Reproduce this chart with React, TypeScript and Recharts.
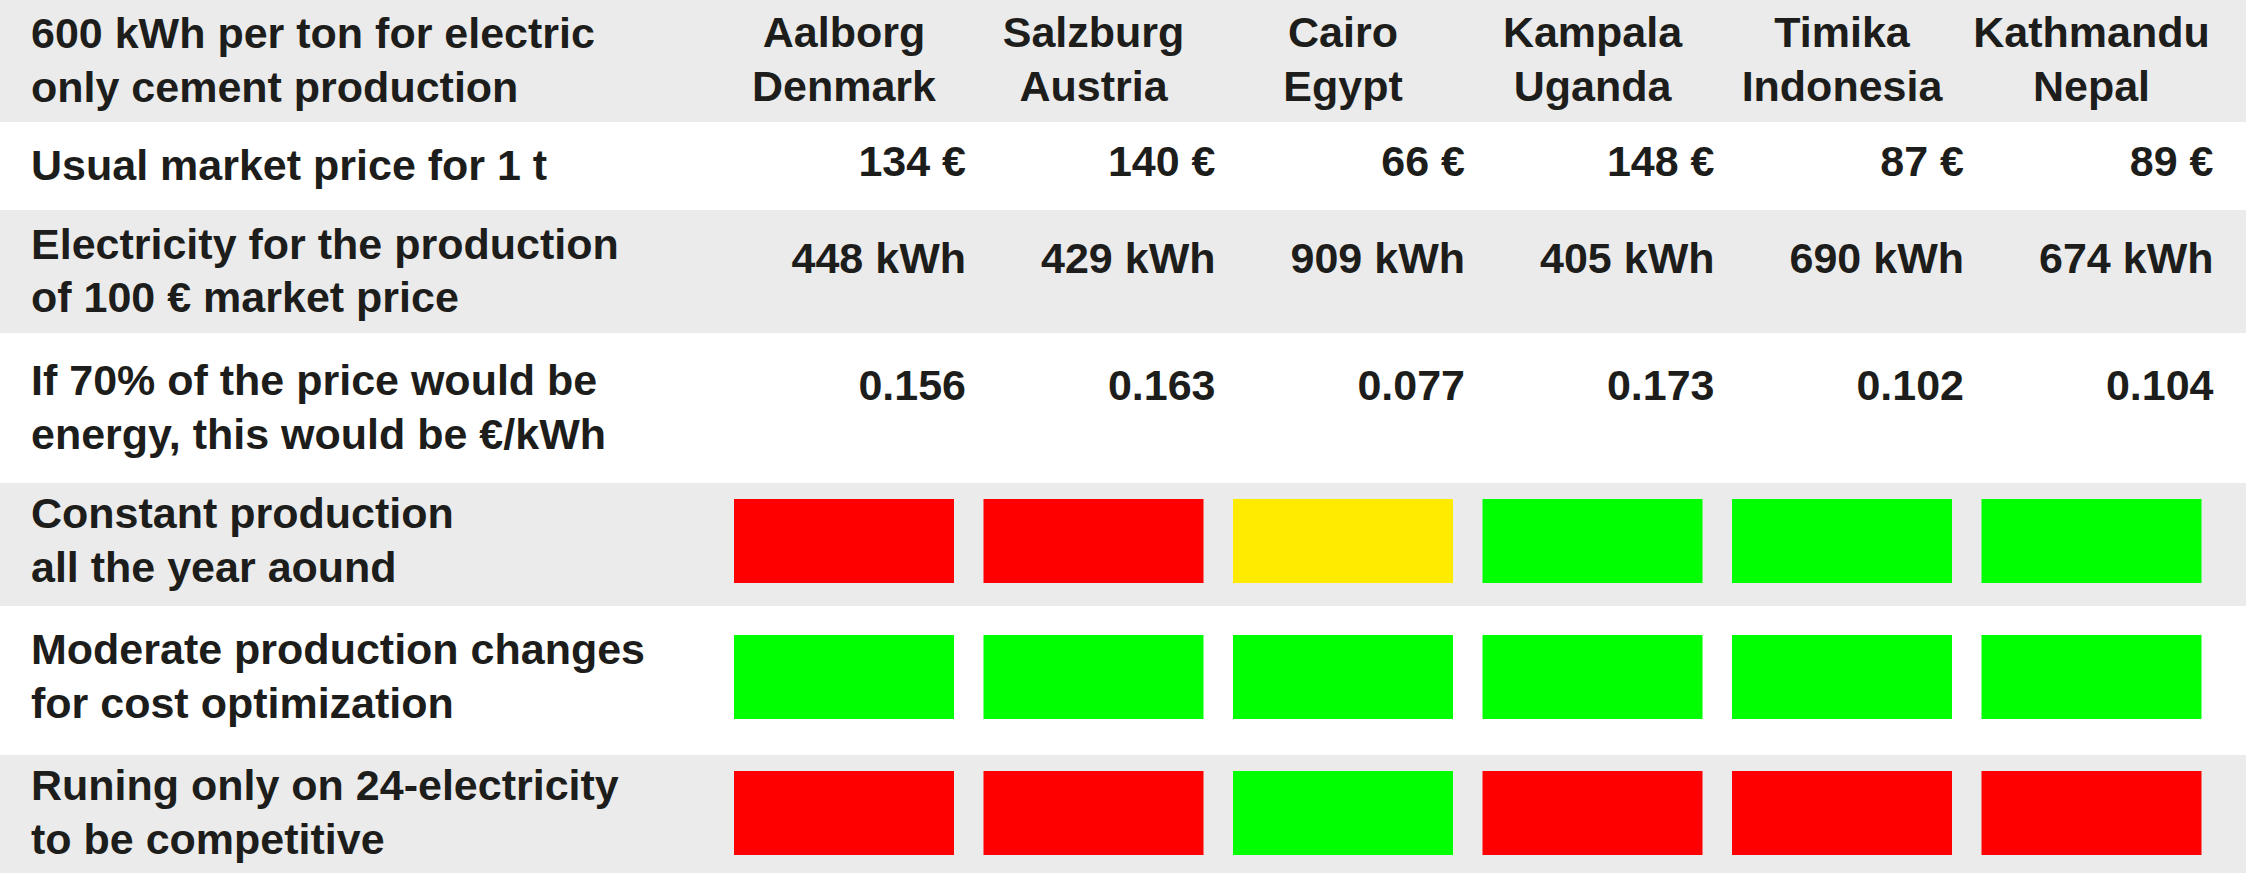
import { BarChart, Bar, XAxis, YAxis, Cell, LabelList } from "recharts";

// columns
const cities = ["Aalborg", "Salzburg", "Cairo", "Kampala", "Timika", "Kathmandu"];
const countries = ["Denmark", "Austria", "Egypt", "Uganda", "Indonesia", "Nepal"];

// numeric rows
const marketPrice = [134, 140, 66, 148, 87, 89];
const kwhPer100Euro = [448, 429, 909, 405, 690, 674];
const euroPerKwh = [0.156, 0.163, 0.077, 0.173, 0.102, 0.104];

// traffic light rows
const constantProduction = ["red", "red", "yellow", "green", "green", "green"];
const moderateChanges = ["green", "green", "green", "green", "green", "green"];
const only24Electricity = ["red", "red", "green", "red", "red", "red"];

// row labels
const headerTitle = ["600 kWh per ton for electric", "only cement production"];
const priceLabel = ["Usual market price for 1 t"];
const kwhLabel = ["Electricity for the production", "of 100 € market price"];
const euroLabel = ["If 70% of the price would be", "energy, this would be €/kWh"];
const constantLabel = ["Constant production", "all the year aound"];
const moderateLabel = ["Moderate production changes", "for cost optimization"];
const only24Label = ["Runing only on 24-electricity", "to be competitive"];

const COLORS: Record<string, string> = {
  red: "#ff0000",
  yellow: "#ffeb00",
  green: "#00ff00",
};

const W = 2246;
const LABEL_W = 719;
const RIGHT_PAD = 30;
const GRAY = "#ebebeb";
const INK = "#1d1d1b";
const FONT = '"Liberation Sans", Arial, Helvetica, sans-serif';
const FONT_SIZE = 43;
const LINE_H = 53.5;
const CAP_HALF = 15.4;

function textLines(lines: string[], x: number, cy: number, anchor: string) {
  const first = cy - ((lines.length - 1) * LINE_H) / 2 - 1.5 + CAP_HALF;
  return (
    <text
      x={x}
      y={first}
      textAnchor={anchor}
      fill={INK}
      fontFamily={FONT}
      fontSize={FONT_SIZE}
      fontWeight="bold"
    >
      {lines.map((l, i) => (
        <tspan key={i} x={x} y={first + i * LINE_H}>
          {l}
        </tspan>
      ))}
    </text>
  );
}

function TableRow({
  height,
  bg,
  label,
  data,
  pad = [0, 0],
  kind,
  shift = 0,
}: {
  height: number;
  bg: string;
  label: string[];
  data: any[];
  pad?: number[];
  kind: "header" | "value" | "status";
  shift?: number;
}) {
  return (
    <BarChart
      width={W}
      height={height}
      data={data}
      margin={{ top: pad[0], right: RIGHT_PAD, bottom: pad[1], left: 0 }}
      style={{ background: bg }}
    >
      <XAxis dataKey="city" hide />
      <YAxis
        type="number"
        domain={[0, 1]}
        ticks={[0.5]}
        width={LABEL_W}
        axisLine={false}
        tickLine={false}
        tick={(p: any) => textLines(label, 31, p.y, "start")}
      />
      <Bar
        dataKey="full"
        barSize={220}
        fill={kind === "status" ? COLORS.green : "transparent"}
        isAnimationActive={false}
      >
        {kind === "status" &&
          data.map((d, i) => <Cell key={i} fill={COLORS[d.status]} />)}
        {kind !== "status" && (
          <LabelList
            dataKey="text"
            content={(props: any) => {
              const vb = props.viewBox ?? props;
              const { x, y, width, height: h } = vb;
              const lines = String(props.value).split("\n");
              if (kind === "header") {
                return textLines(lines, x + width / 2, y + h / 2 + shift, "middle");
              }
              return (
                <text
                  x={x + width + 12}
                  y={y + h / 2 + shift}
                  textAnchor="end"
                  fill={INK}
                  fontFamily={FONT}
                  fontSize={FONT_SIZE}
                  fontWeight="bold"
                >
                  {lines[0]}
                </text>
              );
            }}
          />
        )}
      </Bar>
    </BarChart>
  );
}

const headerData = cities.map((city, i) => ({ city, full: 1, text: `${city}\n${countries[i]}` }));
const priceData = cities.map((city, i) => ({ city, full: 1, text: `${marketPrice[i]} €` }));
const kwhData = cities.map((city, i) => ({ city, full: 1, text: `${kwhPer100Euro[i]} kWh` }));
const euroData = cities.map((city, i) => ({ city, full: 1, text: euroPerKwh[i].toFixed(3) }));
const constantData = cities.map((city, i) => ({ city, full: 1, status: constantProduction[i] }));
const moderateData = cities.map((city, i) => ({ city, full: 1, status: moderateChanges[i] }));
const only24Data = cities.map((city, i) => ({ city, full: 1, status: only24Electricity[i] }));

export default function App() {
  return (
    <div style={{ width: W, height: 873, overflow: "hidden" }}>
      <style>{"body{margin:0}"}</style>
      <TableRow height={122} bg={GRAY} label={headerTitle} data={headerData} kind="header" shift={-1} />
      <TableRow height={88} bg="#ffffff" label={priceLabel} data={priceData} kind="value" shift={10} />
      <TableRow height={123} bg={GRAY} label={kwhLabel} data={kwhData} kind="value" shift={1.5} />
      <TableRow height={150} bg="#ffffff" label={euroLabel} data={euroData} kind="value" shift={-8} />
      <TableRow height={123} bg={GRAY} label={constantLabel} data={constantData} kind="status" pad={[16, 23]} />
      <TableRow height={149} bg="#ffffff" label={moderateLabel} data={moderateData} kind="status" pad={[29, 36]} />
      <TableRow height={118} bg={GRAY} label={only24Label} data={only24Data} kind="status" pad={[16, 18]} />
    </div>
  );
}
